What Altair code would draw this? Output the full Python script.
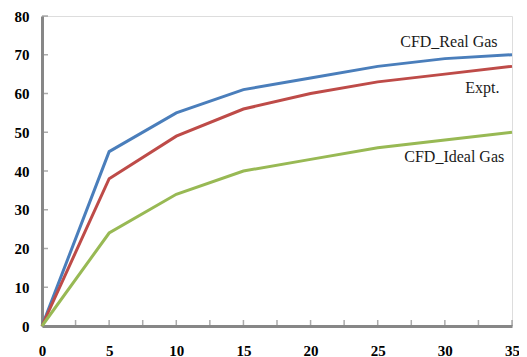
import altair as alt
import pandas as pd

x_vals = [0, 5, 10, 15, 20, 25, 30, 35]
real_gas = [0, 45, 55, 61, 64, 67, 69, 70]
expt = [0, 38, 49, 56, 60, 63, 65, 67]
ideal_gas = [0, 24, 34, 40, 43, 46, 48, 50]

series_names = ["CFD_Real Gas", "Expt.", "CFD_Ideal Gas"]
series_colors = ["#4a7ebb", "#be4b48", "#98b954"]

label_x = [30.3, 32.8, 30.7]
label_y = [73.3, 61.4, 43.6]

x_minor_ticks = [2.5 * i for i in range(1, 15)]
y_minor_ticks = [10 * i for i in range(1, 9)]

rows = []
for name, vals in zip(series_names, [real_gas, expt, ideal_gas]):
    for xv, yv in zip(x_vals, vals):
        rows.append({"x": xv, "y": yv, "series": name})
df = pd.DataFrame(rows)

labels_df = pd.DataFrame({"x": label_x, "y": label_y, "label": series_names})
xt_df = pd.DataFrame({"x": x_minor_ticks, "y": [0] * len(x_minor_ticks)})
yt_df = pd.DataFrame({"y": y_minor_ticks, "x": [0] * len(y_minor_ticks)})

GRAY = "#878787"

xscale = alt.Scale(domain=[0, 35], nice=False, zero=False)
yscale = alt.Scale(domain=[0, 80], nice=False)

xaxis = alt.Axis(values=[0, 5, 10, 15, 20, 25, 30, 35], title=None, grid=False,
                 domainColor=GRAY, domainWidth=3, tickSize=0, labelPadding=17,
                 labelFont="Liberation Serif", labelFontWeight="bold", labelFontSize=15,
                 labelColor="black", labelFlush=False, labelOverlap=False)
yaxis = alt.Axis(values=[0, 10, 20, 30, 40, 50, 60, 70, 80], title=None, grid=False,
                 domainColor=GRAY, domainWidth=3, tickSize=0, labelPadding=13,
                 labelFont="Liberation Serif", labelFontWeight="bold", labelFontSize=15,
                 labelColor="black", labelFlush=False, labelOverlap=False)

X = alt.X("x:Q", scale=xscale, axis=xaxis)
Y = alt.Y("y:Q", scale=yscale, axis=yaxis)

lines = alt.Chart(df).mark_line(strokeWidth=3).encode(
    x=X,
    y=Y,
    color=alt.Color("series:N", scale=alt.Scale(domain=series_names, range=series_colors), legend=None),
    detail="series:N",
)

texts = alt.Chart(labels_df).mark_text(font="Liberation Serif", fontSize=16, color="#1a1a1a").encode(
    x=X, y=Y, text="label:N",
)

xticks = alt.Chart(xt_df).mark_tick(orient="vertical", size=6, thickness=1.5, color=GRAY, yOffset=-3).encode(
    x=X, y=Y,
)
yticks = alt.Chart(yt_df).mark_tick(orient="horizontal", size=6, thickness=1.5, color=GRAY, xOffset=3).encode(
    x=X, y=Y,
)

chart = alt.layer(xticks, yticks, lines, texts).properties(
    width=470, height=310,
    autosize=alt.AutoSizeParams(type="none"),
    padding={"left": 34, "top": 8, "right": 7, "bottom": 31},
).configure_view(stroke=None).configure(background="white")

chart.save("out.html", embed_options={"renderer": "svg", "actions": False})
